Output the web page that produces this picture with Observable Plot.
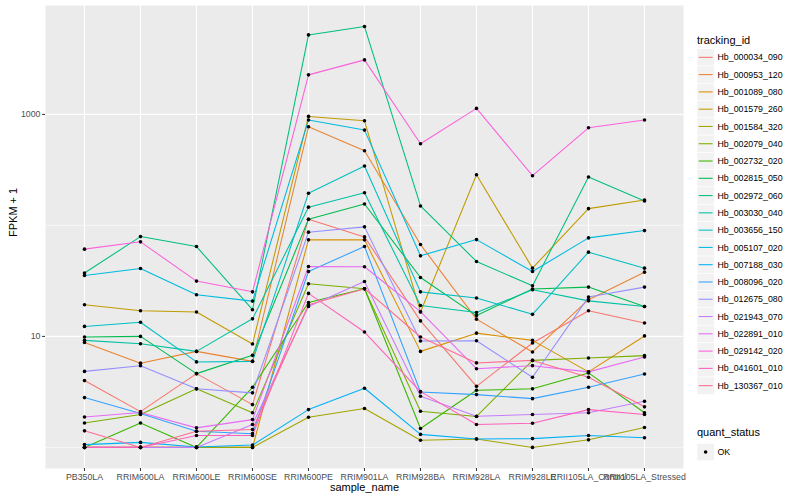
<!DOCTYPE html>
<html><head><meta charset="utf-8">
<script src="https://cdn.jsdelivr.net/npm/d3@7"></script>
<script src="https://cdn.jsdelivr.net/npm/@observablehq/plot@0.6"></script>
<style>body{margin:0;background:#fff;} svg{display:block}</style>
</head><body><div id="chart"></div>
<script>
const samples = ["PB350LA","RRIM600LA","RRIM600LE","RRIM600SE","RRIM600PE","RRIM901LA","RRIM928BA","RRIM928LA","RRIM928LE","RRII105LA_Control","RRII105LA_Stressed"];
const trackingIds = ["Hb_000034_090","Hb_000953_120","Hb_001089_080","Hb_001579_260","Hb_001584_320","Hb_002079_040","Hb_002732_020","Hb_002815_050","Hb_002972_060","Hb_003030_040","Hb_003656_150","Hb_005107_020","Hb_007188_030","Hb_008096_020","Hb_012675_080","Hb_021943_070","Hb_022891_010","Hb_029142_020","Hb_041601_010","Hb_130367_010"];
const palette = ["#F8766D","#EA8331","#D89000","#C09B00","#A3A500","#7CAE00","#39B600","#00BB4E","#00BF7D","#00C1A3","#00BFC4","#00BAE0","#00B0F6","#35A2FF","#9590FF","#C77CFF","#E76BF3","#FA62DB","#FF62BC","#FF6C91"];
const yTicks = [10, 1000];
const statusLevels = ["OK"];

// FPKM + 1 per sample, one array per tracking_id
const hb_000034_090 = [4.0, 2.10, 4.62, 2.43, 113.7, 78.8, 13.8, 3.55, 8.72, 17.0, 13.2];
const hb_000953_120 = [8.83, 5.74, 7.33, 5.96, 773, 471, 67.2, 14.3, 7.24, 21.4, 37.9];
const hb_001089_080 = [1, 1, 1, 1, 74.1, 74.1, 7.33, 10.7, 9.21, 4.79, 10.1];
const hb_001579_260 = [19.3, 17.0, 16.6, 8.54, 959, 876, 16.6, 286, 41.2, 141.6, 169.5];
const hb_001584_320 = [1, 1, 1, 1, 1.87, 2.24, 1.16, 1.19, 1.0, 1.17, 1.51];
const hb_002079_040 = [1.66, 1.98, 3.37, 2.05, 29.8, 26.9, 2.12, 1.90, 6.08, 6.39, 6.71];
const hb_002732_020 = [1, 1.66, 1, 3.48, 20.2, 26.9, 1.48, 3.27, 3.37, 4.69, 2.05];
const hb_002815_050 = [9.88, 10.0, 4.62, 6.75, 113.7, 156, 33.9, 15.4, 26.7, 27.8, 18.6];
const hb_002972_060 = [37.2, 79.3, 64.5, 17.4, 5200, 6185, 149.7, 47.3, 28.6, 273, 166];
const hb_003030_040 = [9.21, 8.60, 7.33, 14.4, 146, 197, 19.0, 16.4, 26.3, 20.9, 18.6];
const hb_003656_150 = [12.3, 13.4, 5.89, 5.96, 195, 343, 25.2, 22.2, 15.8, 57.4, 41.2];
const hb_005107_020 = [35.4, 40.9, 23.7, 20.8, 889, 722, 53.2, 74.5, 38.4, 77.2, 89.8];
const hb_007188_030 = [1.06, 1.11, 1.01, 1.05, 2.19, 3.41, 1.31, 1.19, 1.20, 1.28, 1.22];
const hb_008096_020 = [2.81, 2.02, 1.40, 1.33, 38.4, 64.5, 3.16, 2.99, 2.75, 3.48, 4.59];
const hb_012675_080 = [4.84, 5.45, 3.37, 3.10, 86.9, 97, 9.09, 9.15, 4.28, 22.6, 27.8];
const hb_021943_070 = [1, 1, 1, 1.61, 18.6, 31.2, 2.89, 1.91, 1.98, 2.05, 2.60];
const hb_022891_010 = [1.88, 2.06, 1.50, 1.78, 42.6, 42.4, 16.7, 5.12, 5.45, 4.79, 6.53];
const hb_029142_020 = [61.1, 71.1, 31.5, 25.2, 2270, 3098, 544, 1132, 280.5, 757, 889];
const hb_041601_010 = [1, 1, 1.28, 1.28, 24.4, 10.95, 3.18, 1.61, 1.65, 2.19, 1.98];
const hb_130367_010 = [1.41, 1, 1.40, 1.45, 19.3, 26.9, 9.88, 5.77, 6.08, 4.28, 2.32];

const seriesValues = [hb_000034_090, hb_000953_120, hb_001089_080, hb_001579_260, hb_001584_320, hb_002079_040, hb_002732_020, hb_002815_050, hb_002972_060, hb_003030_040, hb_003656_150, hb_005107_020, hb_007188_030, hb_008096_020, hb_012675_080, hb_021943_070, hb_022891_010, hb_029142_020, hb_041601_010, hb_130367_010];

const data = [];
trackingIds.forEach((id, i) => seriesValues[i].forEach((v, j) => data.push({id, sample: samples[j], value: v, status: "OK"})));

const FONT = "'Liberation Sans', Arial, Helvetica, sans-serif";

const chart = Plot.plot({
  width: 800, height: 500,
  marginLeft: 45, marginRight: 117, marginTop: 5, marginBottom: 32,
  style: {fontFamily: FONT, background: "white", overflow: "visible"},
  x: {type: "point", domain: samples, padding: 0.6, axis: null},
  y: {type: "log", domain: [Math.pow(10, -0.19), Math.pow(10, 3.981)], axis: null},
  color: {domain: trackingIds, range: palette},
  marks: [
    Plot.frame({fill: "#EBEBEB", stroke: null}),
    Plot.gridY([1, 100], {stroke: "white", strokeOpacity: 1, strokeWidth: 0.55}),
    Plot.gridY(yTicks, {stroke: "white", strokeOpacity: 1, strokeWidth: 1.1}),
    Plot.gridX(samples, {stroke: "white", strokeOpacity: 1, strokeWidth: 1.1}),
    Plot.axisY(yTicks, {tickSize: 3, tickPadding: 2, fontSize: 8.8, fill: "#4D4D4D", stroke: "#333333", tickFormat: d => String(d), label: null}),
    Plot.axisX(samples, {tickSize: 3, tickPadding: 2, fontSize: 8.8, fill: "#4D4D4D", stroke: "#333333", label: null}),
    Plot.line(data, {x: "sample", y: "value", z: "id", stroke: "id", strokeWidth: 1.07}),
    Plot.dot(data, {x: "sample", y: "value", r: 1.8, fill: "black", stroke: null}),
    Plot.text(["sample_name"], {frameAnchor: "bottom", dy: 22, fontSize: 11, fill: "black"}),
    Plot.text(["FPKM + 1"], {frameAnchor: "left", dx: -32, rotate: -90, fontSize: 11, fill: "black"})
  ]
});

// legend (ggplot-style, right side)
const color = chart.scale("color");
const svg = d3.select(chart);
const lg = svg.append("g").attr("font-family", FONT).attr("text-anchor", "start");
const KEY = 17.28;
lg.append("text").attr("x", 697).attr("y", 43.5).attr("font-size", 11).attr("fill", "black").text("tracking_id");
trackingIds.forEach((id, i) => {
  const y0 = 48.7 + i * KEY;
  lg.append("rect").attr("x", 697).attr("y", y0).attr("width", KEY).attr("height", KEY).attr("fill", "#F2F2F2").attr("stroke", "white").attr("stroke-width", 0.6);
  lg.append("line").attr("x1", 698.7).attr("x2", 712.6).attr("y1", y0 + KEY / 2).attr("y2", y0 + KEY / 2).attr("stroke", color.apply(id)).attr("stroke-width", 1.07);
  lg.append("text").attr("x", 717.5).attr("y", y0 + KEY / 2).attr("dy", "0.35em").attr("font-size", 8.8).attr("fill", "black").text(id);
});
lg.append("text").attr("x", 697).attr("y", 436).attr("font-size", 11).attr("fill", "black").text("quant_status");
statusLevels.forEach((s, i) => {
  const k0 = 443.4 + i * KEY;
  lg.append("rect").attr("x", 697).attr("y", k0).attr("width", KEY).attr("height", KEY).attr("fill", "#F2F2F2").attr("stroke", "white").attr("stroke-width", 0.6);
  lg.append("circle").attr("cx", 697 + KEY / 2).attr("cy", k0 + KEY / 2).attr("r", 1.8).attr("fill", "black");
  lg.append("text").attr("x", 717.5).attr("y", k0 + KEY / 2).attr("dy", "0.35em").attr("font-size", 8.8).attr("fill", "black").text(s);
});

document.getElementById("chart").appendChild(chart);
</script>
</body></html>
